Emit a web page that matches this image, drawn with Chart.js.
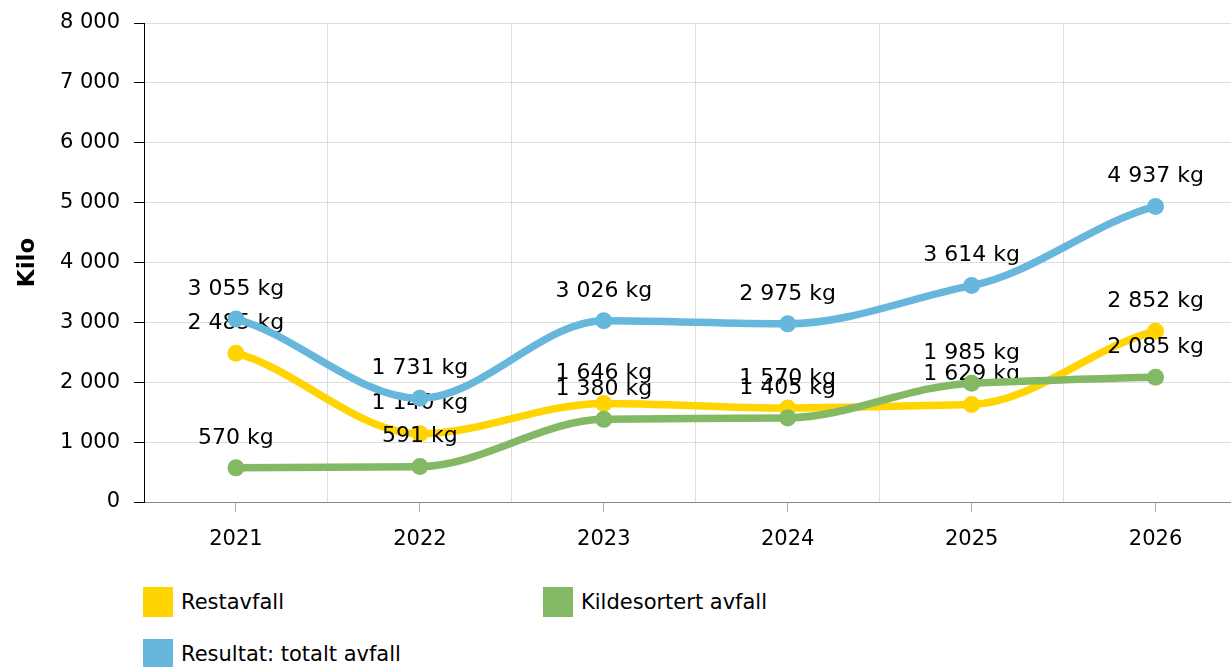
<!DOCTYPE html>
<html>
<head>
<meta charset="utf-8">
<script src="https://cdn.jsdelivr.net/npm/chart.js@4/dist/chart.umd.min.js"></script>
<style>
  html, body { margin: 0; padding: 0; background: #fff; width: 1231px; height: 667px; overflow: hidden; }
  #wrap { position: relative; width: 1231px; height: 667px; overflow: hidden; }
  #c { position: absolute; left: 0; top: 0; }
  .leg { position: absolute; display: flex; align-items: center; font-family: "DejaVu Sans", Verdana, sans-serif; font-size: 21px; color: #000; white-space: nowrap; }
  .leg .box { width: 30px; height: 30px; margin-right: 8px; }
</style>
</head>
<body>
<div id="wrap">
  <canvas id="c" width="1256" height="560"></canvas>
  <div id="legend"></div>
</div>
<script>
const categories = ['2021', '2022', '2023', '2024', '2025', '2026'];
const restavfall = [2485, 1140, 1646, 1570, 1629, 2852];
const kildesortert = [570, 591, 1380, 1405, 1985, 2085];
const totalt = [3055, 1731, 3026, 2975, 3614, 4937];
const yTicks = [0, 1000, 2000, 3000, 4000, 5000, 6000, 7000, 8000];
const seriesNames = ['Restavfall', 'Kildesortert avfall', 'Resultat: totalt avfall'];
const seriesColors = ['#FFD400', '#83B964', '#67B7DC'];

const FONT = '"DejaVu Sans", Verdana, sans-serif';
function fmt(v) { return String(v).replace(/\B(?=(\d{3})+(?!\d))/g, ' '); }

// smoothing: monotone (Steffen) tangents scaled by K, computed from the library's point positions
const K = 0.6;
const smoothPlugin = {
  id: 'smooth',
  beforeDatasetDraw(chart, args) {
    const meta = args.meta;
    const pts = meta.data;
    const n = pts.length;
    const seg = [];
    for (let i = 0; i < n - 1; i++) seg.push((pts[i + 1].y - pts[i].y) / (pts[i + 1].x - pts[i].x));
    for (let i = 0; i < n; i++) {
      const p = pts[i];
      let m;
      if (i === 0) m = seg[0];
      else if (i === n - 1) m = seg[n - 2];
      else {
        const s0 = seg[i - 1], s1 = seg[i];
        const h0 = p.x - pts[i - 1].x, h1 = pts[i + 1].x - p.x;
        const pm = (s0 * h1 + s1 * h0) / (h0 + h1);
        m = (Math.sign(s0) + Math.sign(s1)) * Math.min(Math.abs(s0), Math.abs(s1), 0.5 * Math.abs(pm));
      }
      m *= K;
      const hl = (i > 0 ? (p.x - pts[i - 1].x) : (pts[1].x - p.x)) / 3;
      const hr = (i < n - 1 ? (pts[i + 1].x - p.x) : (p.x - pts[i - 1].x)) / 3;
      p.cp1x = p.x - hl; p.cp1y = p.y - m * hl;
      p.cp2x = p.x + hr; p.cp2y = p.y + m * hr;
    }
    if (meta.dataset) meta.dataset._pointsUpdated = true;
  }
};

const labelPlugin = {
  id: 'pointLabels',
  afterDatasetDraw(chart, args) {
    const ctx = chart.ctx;
    const ds = chart.data.datasets[args.index];
    const meta = args.meta;
    ctx.save();
    ctx.font = '22px ' + FONT;
    ctx.fillStyle = '#000';
    ctx.textAlign = 'center';
    ctx.textBaseline = 'middle';
    meta.data.forEach((pt, i) => {
      ctx.fillText(fmt(ds.data[i]) + ' kg', pt.x, pt.y - 30);
    });
    ctx.restore();
  }
};

function mkDs(name, data, color, order) {
  return {
    label: name, data: data, borderColor: color, backgroundColor: color,
    borderWidth: 7.5, pointRadius: 8.5, pointBorderWidth: 0, pointBackgroundColor: color,
    tension: 0.4, fill: false, order: order,
    borderCapStyle: 'round', borderJoinStyle: 'round'
  };
}

new Chart(document.getElementById('c'), {
  type: 'line',
  data: {
    labels: categories,
    datasets: [
      mkDs(seriesNames[0], restavfall, seriesColors[0], 3),
      mkDs(seriesNames[1], kildesortert, seriesColors[1], 2),
      mkDs(seriesNames[2], totalt, seriesColors[2], 1)
    ]
  },
  options: {
    responsive: false,
    devicePixelRatio: 1,
    animation: false,
    layout: { padding: { top: 23, right: 0, bottom: 0, left: 0 } },
    plugins: { legend: { display: false }, tooltip: { enabled: false } },
    scales: {
      x: {
        type: 'category', position: 'bottom', offset: true, weight: 0,
        grid: { offset: true, drawTicks: false, color: (c) => c.index === 0 ? 'rgba(0,0,0,0)' : '#dddddd', lineWidth: 1 },
        border: { display: true, color: '#888888', width: 1 },
        ticks: { display: false },
        afterFit(s) { s.height = 0; s.paddingLeft = 0; s.paddingRight = 0; }
      },
      xt: {
        type: 'category', position: 'bottom', offset: true, weight: 1,
        labels: categories,
        grid: { offset: false, drawOnChartArea: false, drawTicks: true, tickLength: 10, tickColor: '#aaaaaa', color: '#aaaaaa' },
        border: { display: false },
        ticks: { display: true, padding: 15, color: '#000', font: { family: FONT, size: 21 }, maxRotation: 0, autoSkip: false },
        afterFit(s) { s.height = 58; s.paddingLeft = 0; s.paddingRight = 0; }
      },
      y: {
        type: 'linear', position: 'left', min: 0, max: 8000,
        afterBuildTicks(s) { s.ticks = yTicks.map(v => ({ value: v })); },
        grid: { color: (c) => c.tick && c.tick.value === 0 ? 'rgba(0,0,0,0)' : '#dddddd', tickColor: '#000', tickLength: 10, lineWidth: 1 },
        border: { display: true, color: '#000', width: 1 },
        ticks: { padding: 14, color: '#000', font: { family: FONT, size: 21 }, callback: (v) => fmt(v) },
        title: { display: true, text: 'Kilo', color: '#000', font: { family: FONT, size: 23, weight: 'bold' }, padding: { top: 14, bottom: 0 } },
        afterFit(s) { s.width = 144; s.paddingTop = 0; s.paddingBottom = 0; }
      }
    }
  },
  plugins: [smoothPlugin, labelPlugin]
});

// legend (HTML)
const legendPos = [[143, 587], [543, 587], [143, 639]];
const legEl = document.getElementById('legend');
seriesNames.forEach((n, i) => {
  const d = document.createElement('div');
  d.className = 'leg';
  d.style.left = legendPos[i][0] + 'px';
  d.style.top = legendPos[i][1] + 'px';
  const b = document.createElement('div');
  b.className = 'box';
  b.style.background = seriesColors[i];
  const t = document.createElement('span');
  t.textContent = n;
  d.appendChild(b); d.appendChild(t);
  legEl.appendChild(d);
});
</script>
</body>
</html>
